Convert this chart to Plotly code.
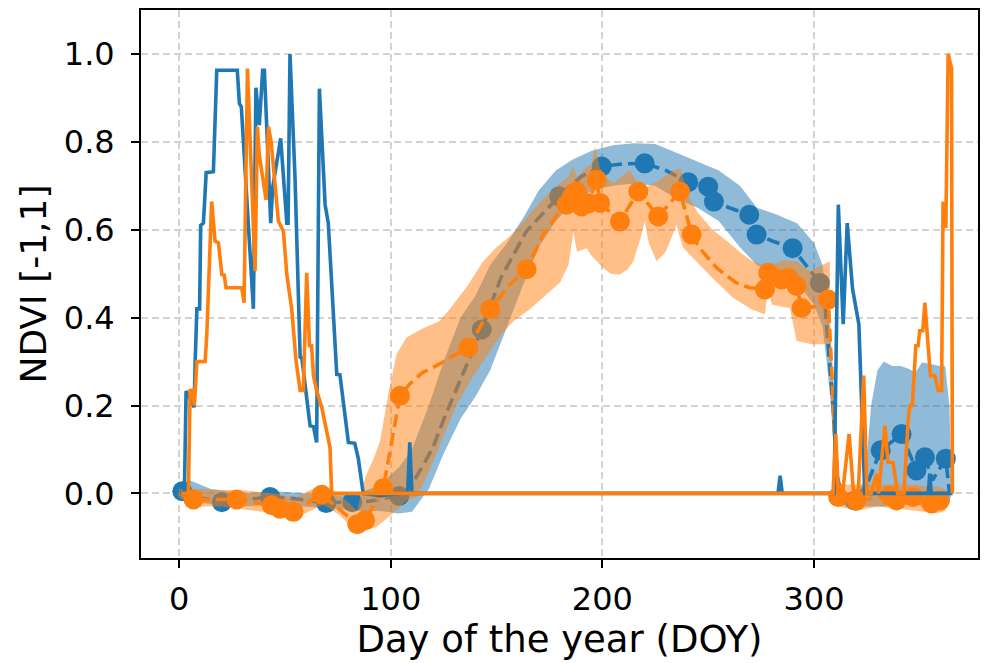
import plotly.graph_objects as go

# ---------------- data ----------------
x_ticks = [0, 100, 200, 300]
y_ticks = [0.0, 0.2, 0.4, 0.6, 0.8, 1.0]

# raw daily NDVI series
blue_raw_doy = [0.5, 2.5, 3.3, 6.5, 7.1, 7.6, 8.4, 9.7, 10.2, 11.5, 12.8, 16.2, 17.8, 27.5, 28.5, 29.4,
                35.1, 36.3, 37.9, 39.5, 40.3, 43.3, 44.2, 48.0, 50.9, 51.5, 52.4, 54.8, 57.2, 58.0,
                61.9, 63.5, 65.0, 66.3, 69.0, 70.5, 74.5, 76.0, 80.0, 83.0, 84.7, 87.0, 95.0, 104.0,
                108.0, 109.0, 110.0, 283.0, 284.0, 285.0, 309.5, 311.5, 313.8, 315.7, 318.2, 321.2,
                324.0, 354.0, 354.7, 355.4, 365.5]
blue_raw_ndvi = [0.0, 0.0, 0.233, 0.2, 0.196, 0.30, 0.42, 0.42, 0.61, 0.615, 0.73, 0.732, 0.963, 0.963, 0.887, 0.88,
                 0.42, 0.923, 0.838, 0.963, 0.963, 0.615, 0.695, 0.808, 0.615, 0.615, 1.0, 0.715, 0.31, 0.308,
                 0.154, 0.152, 0.116, 0.921, 0.657, 0.615, 0.271, 0.27, 0.116, 0.114, 0.079, 0.0, -0.005, 0.0,
                 0.0, 0.116, 0.0, 0.0, 0.04, 0.0, 0.0, 0.657, 0.385, 0.615, 0.466, 0.385,
                 0.0, 0.0, 0.045, 0.0, 0.0]

orange_raw_doy = [1.0, 4.4, 5.2, 6.5, 7.2, 8.4, 12.3, 13.1, 15.4, 17.0, 18.6, 20.2, 21.3, 22.2, 29.6, 30.7,
                  32.3, 35.9, 37.0, 37.9, 41.1, 42.2, 43.5, 46.9, 49.3, 50.9, 53.2, 55.3, 57.2, 58.7,
                  60.3, 61.6, 62.6, 63.5, 65.0, 67.4, 71.3, 72.1, 309.0, 310.3, 311.5, 312.5, 313.5,
                  316.6, 318.7, 321.0, 323.5, 325.0, 327.0, 329.5, 330.5, 333.5, 335.0, 337.4, 339.5,
                  342.5, 344.5, 345.3, 346.5, 348.1, 349.2, 350.0, 351.4, 352.4, 355.0, 357.1, 358.7,
                  360.3, 361.0, 362.3, 363.4, 365.0, 365.4]
orange_raw_ndvi = [0.0, 0.0, 0.234, 0.235, 0.2, 0.30, 0.30, 0.362, 0.664, 0.574, 0.57, 0.498, 0.497, 0.468, 0.468, 0.434,
                   0.967, 0.506, 0.834, 0.77, 0.668, 0.834, 0.80, 0.62, 0.596, 0.498, 0.42, 0.30, 0.234, 0.234,
                   0.502, 0.336, 0.336, 0.268, 0.234, 0.196, 0.105, 0.0, 0.0, 0.135, 0.0, 0.02, 0.0,
                   0.135, 0.0, 0.01, 0.268, 0.0, 0.0, 0.045, 0.0, 0.154, 0.071, 0.07, 0.0,
                   0.0, 0.166, 0.2, 0.2, 0.336, 0.336, 0.37, 0.37, 0.434, 0.268, 0.268, 0.234,
                   0.234, 0.664, 0.604, 1.0, 0.967, 0.0]

# smoothed mean (dashed)
blue_mean_doy = [0, 1.5, 10, 20.2, 30, 43, 55, 69.5, 76, 81.8, 90, 98, 104, 108, 112, 116, 120, 126, 133, 143,
                 152, 164, 175, 179.6, 190, 199.7, 210, 220, 230, 240.6, 250, 252.7, 260, 269.4, 272.9, 280,
                 289.9, 296, 302.8, 305, 307, 309, 311, 313, 316, 319.3, 325, 331.5, 341.4, 348.4, 352.4,
                 356, 362.3, 364]
blue_mean_ndvi = [0.0, 0.005, -0.01, -0.02, -0.015, -0.008, -0.012, -0.022, -0.02, -0.02, -0.018, -0.01, -0.006,
                  0.01, 0.037, 0.07, 0.105, 0.18, 0.26, 0.373, 0.49, 0.596, 0.653, 0.676, 0.721, 0.744, 0.75,
                  0.751, 0.735, 0.708, 0.698, 0.664, 0.65, 0.634, 0.589, 0.575, 0.558, 0.52, 0.479, 0.438,
                  0.33, 0.2, 0.04, -0.005, -0.01, -0.016, 0.02, 0.098, 0.135, 0.052, 0.082, 0.03, 0.079, 0.0]

blue_obs_doy = [1.5, 20.2, 43, 69.5, 81.8, 104, 143, 179.6, 199.7, 220, 240.6, 250, 252.7, 269.4, 272.9,
                289.9, 302.8, 319.3, 331.5, 341.4, 348.4, 352.4, 362.3]
blue_obs_ndvi = [0.005, -0.02, -0.008, -0.022, -0.02, -0.006, 0.373, 0.676, 0.744, 0.751, 0.708, 0.698, 0.664,
                 0.634, 0.589, 0.558, 0.479, -0.016, 0.098, 0.135, 0.052, 0.082, 0.079]

orange_mean_doy = [0, 6.8, 27.2, 43.8, 47.7, 54, 67.4, 84.2, 87.9, 96.5, 104.4, 109, 115, 123, 128, 136.7, 147,
                   156.3, 164.2, 172, 180, 183.1, 185.5, 187.8, 190.2, 193.5, 197.3, 198.9, 208.3, 217,
                   226.4, 236.7, 242.2, 246, 254, 263.4, 269.7, 276.8, 278.4, 284.7, 288, 291.8, 294.1,
                   300, 304.4, 306.7, 308.5, 310, 311.4, 320, 335.8, 339, 346.9, 355.5, 359.5, 363]
orange_mean_ndvi = [0.0, -0.014, -0.014, -0.027, -0.035, -0.042, -0.003, -0.07, -0.061, 0.012, 0.222, 0.249,
                    0.275, 0.294, 0.309, 0.332, 0.419, 0.475, 0.51, 0.589, 0.642, 0.657, 0.675, 0.687, 0.653,
                    0.66, 0.714, 0.661, 0.619, 0.687, 0.63, 0.687, 0.589, 0.558, 0.513, 0.479, 0.468, 0.464,
                    0.502, 0.487, 0.49, 0.472, 0.422, 0.425, 0.43, 0.441, 0.27, 0.1, -0.008, -0.016, -0.005,
                    -0.016, -0.008, -0.023, -0.016, -0.01]

orange_obs_doy = [6.8, 27.2, 43.8, 47.7, 54, 67.4, 84.2, 87.9, 96.5, 104.4, 136.7, 147, 164.2, 183.1, 185.5,
                  187.8, 190.2, 193.5, 197.3, 198.9, 208.3, 217, 226.4, 236.7, 242.2, 276.8, 278.4, 284.7,
                  288, 291.8, 294.1, 306.7, 311.4, 320, 335.8, 339, 346.9, 355.5, 359.5]
orange_obs_ndvi = [-0.014, -0.014, -0.027, -0.035, -0.042, -0.003, -0.07, -0.061, 0.012, 0.222, 0.332, 0.419,
                   0.51, 0.657, 0.675, 0.687, 0.653, 0.66, 0.714, 0.661, 0.619, 0.687, 0.63, 0.687, 0.589,
                   0.464, 0.502, 0.487, 0.49, 0.472, 0.422, 0.441, -0.008, -0.016, -0.005, -0.016, -0.008,
                   -0.023, -0.016]

# uncertainty bands
blue_up_doy = [0, 5, 15, 30, 45, 60, 75, 85, 95, 104, 110, 118, 125, 133, 140, 147, 155, 163, 170, 178, 186,
               195, 205, 215, 225, 235, 245, 255, 265, 273, 282, 292, 300, 304, 306, 308, 310, 312, 315, 320,
               324, 327, 330, 333, 337, 341, 345, 348, 351, 355, 359, 362, 364, 365]
blue_up_ndvi = [0.015, 0.03, 0.01, 0.0, 0.005, 0.0, -0.005, 0.0, 0.02, 0.06, 0.1, 0.2, 0.3, 0.4, 0.45, 0.52,
                0.57, 0.63, 0.69, 0.735, 0.76, 0.78, 0.792, 0.797, 0.795, 0.775, 0.755, 0.735, 0.70, 0.65,
                0.635, 0.615, 0.57, 0.52, 0.45, 0.35, 0.2, 0.02, 0.0, 0.0, 0.03, 0.2, 0.28, 0.3, 0.29, 0.29,
                0.283, 0.275, 0.298, 0.295, 0.29, 0.29, 0.2, 0.0]
blue_lo_doy = blue_up_doy
blue_lo_ndvi = [-0.015, -0.02, -0.025, -0.03, -0.025, -0.03, -0.035, -0.04, -0.04, -0.046, -0.042, 0.01, 0.09,
                0.17, 0.22, 0.28, 0.38, 0.48, 0.56, 0.62, 0.66, 0.69, 0.70, 0.705, 0.70, 0.67, 0.65, 0.62,
                0.56, 0.52, 0.50, 0.48, 0.43, 0.38, 0.3, 0.2, 0.05, -0.02, -0.03, -0.035, -0.03, -0.03, -0.03,
                -0.03, -0.03, -0.027, -0.025, -0.023, -0.03, -0.03, -0.03, -0.03, -0.02, 0.0]

orange_up_doy = [0, 10, 20, 30, 45, 55, 65, 72, 80, 84, 88, 92, 95, 99, 102.8, 107.5, 115, 123, 128, 136,
                 143.7, 150, 156.3, 163, 170, 176, 181, 184, 186, 188, 192, 195, 196.5, 198.9, 201.4, 205.2,
                 213, 217.7, 222, 226, 233.5, 237, 240, 245, 252, 260, 266, 271, 276, 279, 285, 291.8, 298,
                 304, 307.5, 308, 309.5, 310.5, 312, 330, 345, 358, 362, 364]
orange_up_ndvi = [0.01, 0.01, 0.008, 0.007, 0.0, -0.01, 0.015, 0.01, -0.02, -0.04, 0.037, 0.08, 0.12, 0.23,
                  0.317, 0.355, 0.375, 0.392, 0.42, 0.47, 0.528, 0.56, 0.585, 0.62, 0.66, 0.69, 0.71, 0.72,
                  0.745, 0.72, 0.74, 0.75, 0.79, 0.74, 0.721, 0.706, 0.736, 0.695, 0.70, 0.71, 0.735, 0.74,
                  0.68, 0.64, 0.60, 0.57, 0.545, 0.528, 0.52, 0.517, 0.53, 0.528, 0.506, 0.52, 0.528, 0.3,
                  0.1, 0.01, 0.02, 0.02, 0.02, 0.015, 0.01, 0.0]
orange_lo_doy = [0, 10, 20, 30, 45, 54, 62, 68, 76, 84, 88, 93.4, 101, 107.5, 112.3, 118, 124.9, 131, 137.5,
                 145, 152, 158, 166, 173.7, 180, 184, 186.3, 188, 192.6, 195, 197.3, 200.4, 204, 208.3, 212,
                 214.6, 218, 220, 222, 225.6, 230, 235, 238, 243, 246, 252, 261.8, 270, 276.8, 278.4, 280,
                 285, 288.6, 290.5, 291.8, 299.6, 302, 305, 307.5, 308, 309.5, 310.5, 312, 320, 330, 340,
                 350, 358, 362, 364]
orange_lo_ndvi = [-0.01, -0.03, -0.03, -0.035, -0.045, -0.06, -0.04, -0.025, -0.05, -0.09, -0.085, -0.076,
                  -0.046, -0.016, -0.008, 0.05, 0.128, 0.2, 0.256, 0.31, 0.36, 0.392, 0.42, 0.453, 0.48, 0.52,
                  0.596, 0.55, 0.558, 0.54, 0.528, 0.513, 0.5, 0.498, 0.51, 0.528, 0.58, 0.619, 0.57, 0.528,
                  0.55, 0.611, 0.56, 0.536, 0.521, 0.49, 0.445, 0.42, 0.407, 0.47, 0.43, 0.425, 0.422, 0.38,
                  0.347, 0.339, 0.34, 0.34, 0.34, 0.25, 0.05, -0.02, -0.03, -0.04, -0.03, -0.035, -0.04,
                  -0.045, -0.04, 0.0]

BLUE = "#1f77b4"
ORANGE = "#ff7f0e"


def band(x_up, y_up, x_lo, y_lo, rgba):
    return go.Scatter(x=list(x_up) + list(x_lo)[::-1], y=list(y_up) + list(y_lo)[::-1],
                      fill="toself", fillcolor=rgba, line=dict(width=0), mode="lines",
                      hoverinfo="skip", showlegend=False)


fig = go.Figure()
# blue smoothed
fig.add_trace(band(blue_up_doy, blue_up_ndvi, blue_lo_doy, blue_lo_ndvi, "rgba(31,119,180,0.5)"))
fig.add_trace(go.Scatter(x=blue_mean_doy, y=blue_mean_ndvi, mode="lines",
                         line=dict(color=BLUE, width=3.6, dash="13px,6px")))
fig.add_trace(go.Scatter(x=blue_obs_doy, y=blue_obs_ndvi, mode="markers",
                         marker=dict(color=BLUE, size=20, line=dict(width=0))))
# orange smoothed
fig.add_trace(band(orange_up_doy, orange_up_ndvi, orange_lo_doy, orange_lo_ndvi, "rgba(255,127,14,0.5)"))
fig.add_trace(go.Scatter(x=orange_mean_doy, y=orange_mean_ndvi, mode="lines",
                         line=dict(color=ORANGE, width=3.6, dash="13px,6px")))
fig.add_trace(go.Scatter(x=orange_obs_doy, y=orange_obs_ndvi, mode="markers",
                         marker=dict(color=ORANGE, size=20, line=dict(width=0))))
# raw series
fig.add_trace(go.Scatter(x=blue_raw_doy, y=blue_raw_ndvi, mode="lines",
                         line=dict(color=BLUE, width=3.6)))
fig.add_trace(go.Scatter(x=orange_raw_doy, y=orange_raw_ndvi, mode="lines",
                         line=dict(color=ORANGE, width=3.6)))

axis_common = dict(
    showline=True, linecolor="black", linewidth=1.8, mirror=True,
    ticks="outside", ticklen=8, tickwidth=1.8, tickcolor="black",
    showgrid=True, gridcolor="#d3d3d3", gridwidth=1.5, griddash="7px,4px",
    zeroline=False, tickfont=dict(size=32, color="black"),
)
fig.update_xaxes(range=[-18, 377.5], tickvals=x_ticks, ticktext=[str(v) for v in x_ticks],
                 ticklabelstandoff=4,
                 title=dict(text="Day of the year (DOY)", font=dict(size=37, color="black"), standoff=6),
                 **axis_common)
fig.update_yaxes(range=[-0.147, 1.1], tickvals=y_ticks, ticktext=[f"{v:.1f}" for v in y_ticks],
                 ticklabelstandoff=10,
                 title=dict(text="NDVI [-1,1]", font=dict(size=36, color="black"), standoff=6),
                 **axis_common)
fig.update_layout(width=989, height=663, margin=dict(l=141, r=11, t=8, b=105),
                  plot_bgcolor="white", paper_bgcolor="white", showlegend=False,
                  font=dict(family="DejaVu Sans", color="black"))
fig.write_html("out.html")
